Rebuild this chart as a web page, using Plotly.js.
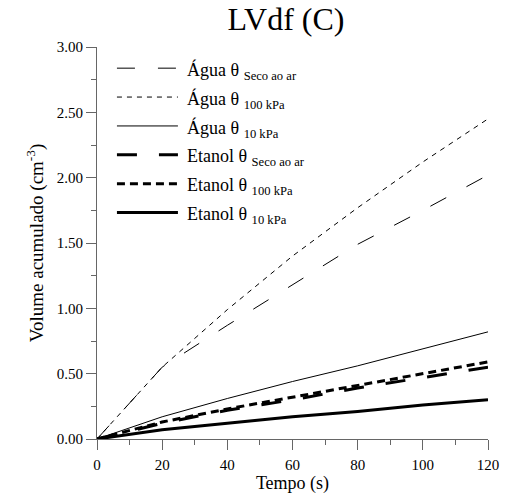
<!DOCTYPE html>
<html>
<head>
<meta charset="utf-8">
<script src="https://cdn.plot.ly/plotly-3.0.1.min.js"></script>
<style>html,body{margin:0;padding:0;background:#fff;}#chart{width:507px;height:495px;}</style>
</head>
<body>
<div id="chart"></div>
<script>
var tempo = [0, 20, 40, 60, 80, 100, 120];
var aguaSeco = [0, 0.55, 0.87, 1.18, 1.49, 1.75, 2.02];
var agua100 = [0, 0.55, 0.99, 1.40, 1.77, 2.12, 2.45];
var agua10 = [0, 0.17, 0.31, 0.44, 0.56, 0.69, 0.82];
var etanolSeco = [0, 0.12, 0.22, 0.30, 0.39, 0.47, 0.55];
var etanol100 = [0, 0.13, 0.23, 0.32, 0.41, 0.50, 0.59];
var etanol10 = [0, 0.07, 0.12, 0.17, 0.21, 0.26, 0.30];
var names = [
  "Água θ <sub>Seco ao ar</sub>",
  "Água θ <sub>100 kPa</sub>",
  "Água θ <sub>10 kPa</sub>",
  "Etanol θ <sub>Seco ao ar</sub>",
  "Etanol θ <sub>100 kPa</sub>",
  "Etanol θ <sub>10 kPa</sub>"
];
var series = [aguaSeco, agua100, agua10, etanolSeco, etanol100, etanol10];
var styles = [
  {width: 1, dash: "18px,23px"},
  {width: 1, dash: "5px,5px"},
  {width: 1, dash: "solid"},
  {width: 3, dash: "20px,22px"},
  {width: 3, dash: "8px,5px"},
  {width: 3, dash: "solid"}
];
var font = "Liberation Serif";
var traces = series.map(function (s, i) {
  return {
    x: tempo, y: s, name: names[i], type: "scatter", mode: "lines",
    showlegend: false,
    line: {color: "#000", width: styles[i].width, dash: styles[i].dash}
  };
});
// custom legend (wide line samples like the reference)
var legTop = 0.946, legStep = 0.0737;
var shapes = [], annotations = [];
names.forEach(function (n, i) {
  var yy = legTop - i * legStep;
  shapes.push({type: "line", xref: "paper", yref: "paper", x0: 0.051, x1: 0.207, y0: yy, y1: yy,
    line: {color: "#000", width: styles[i].width, dash: styles[i].dash}});
  annotations.push({xref: "paper", yref: "paper", x: 0.226, y: yy, xanchor: "left", yanchor: "middle",
    yshift: -3, text: n, showarrow: false, font: {family: font, size: 18, color: "#000"}});
});
var layout = {
  width: 507, height: 495,
  margin: {l: 97, r: 19, t: 47, b: 56},
  paper_bgcolor: "#fff", plot_bgcolor: "#fff",
  font: {family: font, color: "#000", size: 15},
  title: {text: "LVdf (C)", font: {family: font, size: 32, color: "#000"}, x: 0.564, xanchor: "center", y: 0.985, yanchor: "top"},
  showlegend: false,
  shapes: shapes,
  annotations: annotations,
  xaxis: {
    range: [0, 120], dtick: 20, tick0: 0, showgrid: false, zeroline: false,
    showline: true, linecolor: "#666", linewidth: 1,
    ticks: "outside", ticklen: 10, tickcolor: "#666", ticklabelstandoff: 2,
    minor: {dtick: 10, ticklen: 5, tickcolor: "#666", ticks: "outside", showgrid: false},
    tickfont: {family: font, size: 15, color: "#000"},
    title: {text: "Tempo (s)", font: {family: font, size: 18, color: "#000"}, standoff: 2}
  },
  yaxis: {
    range: [0, 3], dtick: 0.5, tick0: 0, tickformat: ".2f", showgrid: false, zeroline: false,
    showline: true, linecolor: "#666", linewidth: 1,
    ticks: "outside", ticklen: 10, tickcolor: "#666",
    minor: {dtick: 0.25, ticklen: 5, tickcolor: "#666", ticks: "outside", showgrid: false},
    tickfont: {family: font, size: 15, color: "#000"},
    title: {text: "Volume acumulado (cm<sup>-3</sup>)", font: {family: font, size: 19, color: "#000"}, standoff: 8}
  }
};
Plotly.newPlot("chart", traces, layout, {displayModeBar: false, staticPlot: true});
</script>
</body>
</html>
